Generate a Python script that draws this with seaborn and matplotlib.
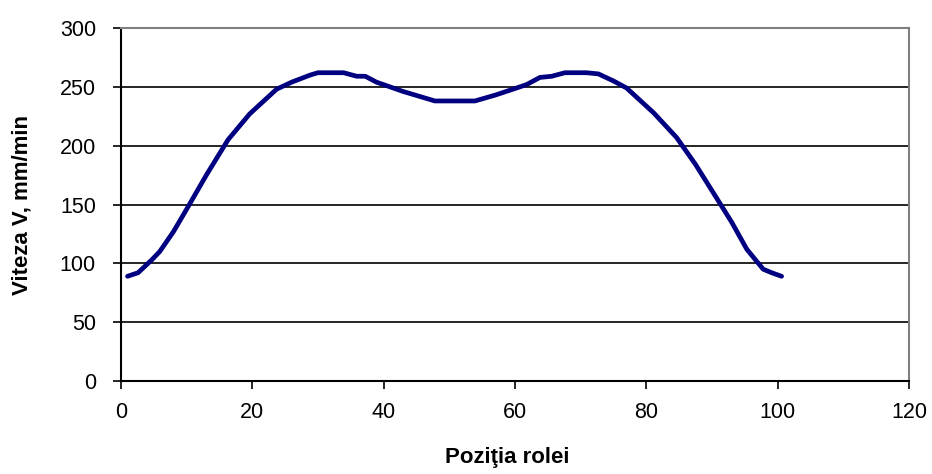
import matplotlib
matplotlib.use("Agg")
import matplotlib.pyplot as plt
import seaborn as sns
import pandas as pd

# Valori
pozitie = [1, 2.6, 4.7, 5.9, 8, 10, 13, 16.3, 19.6, 23.7, 26, 28.8, 30, 33.9,
           35.9, 37.2, 38.9, 43, 47.8, 53.9, 57, 59.7, 61.8, 63.8, 65.6, 67.6,
           70.9, 72.7, 75, 77, 81.1, 84.6, 87.5, 90.2, 93, 95.3, 97.8, 99.1, 100.6]
viteza = [89, 92, 103, 110, 127, 146, 175, 205, 227, 248, 254, 260, 262, 262,
          259, 259, 254, 246, 238, 238, 243, 248, 252, 258, 259, 262,
          262, 261, 255, 249, 228, 207, 184, 160, 135, 112, 95, 92, 89]

datos = pd.DataFrame({'pozitie': pozitie, 'viteza': viteza})

sns.set_style("white")
plt.rcParams['font.family'] = ['Liberation Sans', 'DejaVu Sans']
plt.rcParams['text.color'] = 'black'
plt.rcParams['axes.labelcolor'] = 'black'
plt.rcParams['xtick.color'] = 'black'
plt.rcParams['ytick.color'] = 'black'

fig = plt.figure(figsize=(9.32, 4.74), dpi=100)
ax = fig.add_axes([0.1298, 0.1962, 0.8455, 0.7447])

sns.lineplot(x='pozitie', y='viteza', data=datos, ax=ax, color='#000080',
             linewidth=3.4, solid_capstyle='round', solid_joinstyle='round')

ax.set_xlim(0, 120)
ax.set_ylim(0, 300)
ax.set_xticks(range(0, 121, 20))
ax.set_yticks(range(0, 301, 50))

# linii orizontale de grila
ax.yaxis.grid(True, color='black', linewidth=1.2)
ax.xaxis.grid(False)
ax.set_axisbelow(True)

for s in ['left', 'bottom']:
    ax.spines[s].set_color('black')
    ax.spines[s].set_linewidth(1.5)
for s in ['top', 'right']:
    ax.spines[s].set_color('#808080')
    ax.spines[s].set_linewidth(1.5)

ax.tick_params(axis='both', direction='out', length=6, width=1.2,
               color='black', labelcolor='black', labelsize=15.5,
               left=True, bottom=True)
ax.tick_params(axis='y', pad=12)
ax.tick_params(axis='x', pad=9)

ax.set_xlabel('Poziţia rolei', fontsize=16, fontweight='bold', color='black')
ax.set_ylabel('Viteza V, mm/min', fontsize=16, fontweight='bold', color='black')
ax.xaxis.set_label_coords(0.49, -0.218)
ax.yaxis.set_label_coords(-0.1256, 0.5)
ax.xaxis.label.set_va('center')
ax.yaxis.label.set_va('center')

fig.savefig('out.png', dpi=100)
